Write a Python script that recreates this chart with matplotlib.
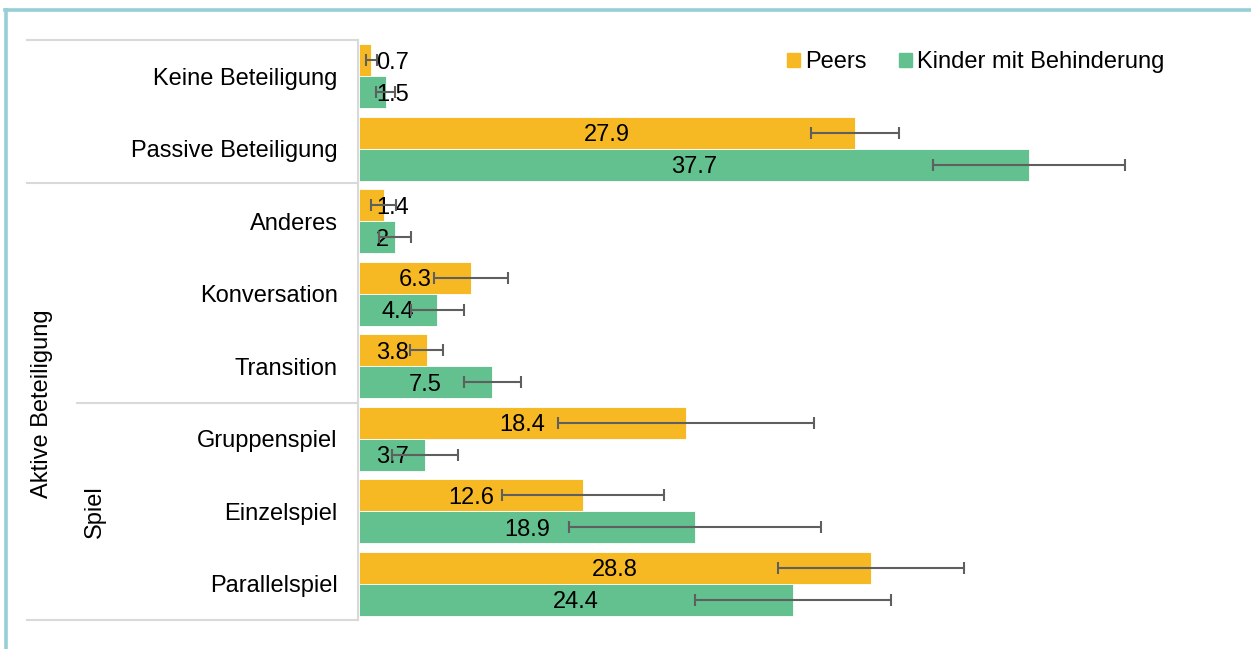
import matplotlib
matplotlib.use("Agg")
import matplotlib.pyplot as plt
import numpy as np
from matplotlib.lines import Line2D
from matplotlib.patches import Patch

plt.rcParams["font.family"] = ["Liberation Sans", "DejaVu Sans"]

categories = ["Keine Beteiligung", "Passive Beteiligung", "Anderes", "Konversation",
              "Transition", "Gruppenspiel", "Einzelspiel", "Parallelspiel"]
peers = [0.7, 27.9, 1.4, 6.3, 3.8, 18.4, 12.6, 28.8]
peers_err = [0.3, 2.45, 0.7, 2.1, 0.95, 7.2, 4.55, 5.25]
kinder = [1.5, 37.7, 2, 4.4, 7.5, 3.7, 18.9, 24.4]
kinder_err = [0.55, 5.4, 0.9, 1.5, 1.6, 1.85, 7.1, 5.5]
series_names = ["Peers", "Kinder mit Behinderung"]

ORANGE = "#F6B924"
GREEN = "#62C18E"
GRID = "#D9D9D9"
TEAL = "#96CFD5"
W, H = 1251, 649

fig = plt.figure(figsize=(W / 100, H / 100), dpi=100)
ax = fig.add_axes([359 / W, (H - 620) / H, 880 / W, 580 / H])

y = np.arange(len(categories))
bh = 0.44
ax.barh(y - bh / 2, peers, height=bh, color=ORANGE, edgecolor="white", linewidth=0.6, zorder=2)
ax.barh(y + bh / 2, kinder, height=bh, color=GREEN, edgecolor="white", linewidth=0.6, zorder=2)
for vals, errs, off in [(peers, peers_err, -bh / 2), (kinder, kinder_err, bh / 2)]:
    ax.errorbar(vals, y + off, xerr=errs, fmt="none", ecolor="#5F5F5F",
                elinewidth=1.5, capsize=4.5, capthick=1.5, zorder=4)
    for yi, v in zip(y, vals):
        label = f"{v:g}"
        # small bars: label starts just inside the axis instead of the bar centre
        if v < 4:
            ax.text(0.95, yi + off, label, ha="left", va="center_baseline", fontsize=17, zorder=3)
        else:
            ax.text(v / 2, yi + off, label, ha="center", va="center_baseline", fontsize=17, zorder=3)

ax.set_xlim(0, 49.5)
ax.set_ylim(len(categories) - 0.5, -0.5)
ax.set_xticks([])
ax.set_yticks([])
for s in ax.spines.values():
    s.set_visible(False)

# category labels
for yi, cat in zip(y, categories):
    ax.text(-21.5 / 17.78, yi, cat, ha="right", va="center_baseline", fontsize=17)


def fline(x0, y0, x1, y1, color=GRID, lw=1.5):
    fig.add_artist(Line2D([x0 / W, x1 / W], [1 - y0 / H, 1 - y1 / H],
                          transform=fig.transFigure, color=color, lw=lw))


# table lines on the left
fline(27, 40, 358, 40)
fline(27, 183, 358, 183)
fline(77, 403, 358, 403)
fline(27, 620, 358, 620)
fline(358, 40, 358, 620)

# group labels
fig.text(42 / W, 1 - 404 / H, "Aktive Beteiligung", rotation=90, ha="center", va="center", fontsize=17)
fig.text(95 / W, 1 - 512 / H, "Spiel", rotation=90, ha="center", va="center", fontsize=17)

# teal frame (left + top)
fline(6, 10, 6, H, color=TEAL, lw=2.6)
fline(5, 10, W, 10, color=TEAL, lw=2.6)

handles = [Patch(color=ORANGE), Patch(color=GREEN)]
fig.legend(handles, series_names, loc="center left", bbox_to_anchor=(787 / W, 1 - 62 / H),
           ncol=2, frameon=False, fontsize=17, handlelength=0.55, handleheight=0.55,
           handletextpad=0.22, columnspacing=1.35, borderpad=0, borderaxespad=0)

fig.savefig("out.png", dpi=100)
